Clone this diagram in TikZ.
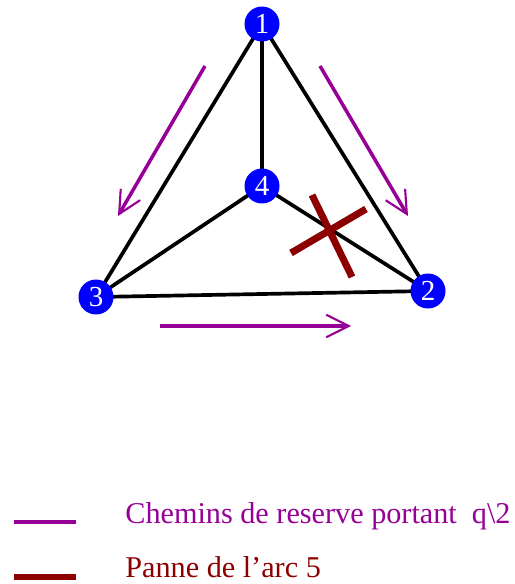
\documentclass[tikz,border=0pt]{standalone}
\usepackage{fontspec}
\setmainfont{Liberation Serif}
\usetikzlibrary{arrows.meta}
\definecolor{reserve}{RGB}{150,0,150}
\definecolor{panne}{RGB}{140,0,0}
\definecolor{noeud}{RGB}{0,0,255}

\begin{document}
\begin{tikzpicture}[x=0.02cm, y=-0.02cm,
    vertex/.style={circle, fill=noeud, minimum size=0.7cm, inner sep=0pt, text=white, font=\fontsize{16.5}{16}\selectfont},
    edge/.style={line width=2.1pt, black},
    detour/.style={reserve, line width=2pt, -{Straight Barb[length=0.45cm, width=0.45cm, line width=1.2pt]}},
    cut/.style={panne, line width=4pt},
    legend/.style={anchor=base west, font=\fontsize{17.2}{20}\selectfont, inner sep=0pt}
]
    \useasboundingbox (0,0) rectangle (514,584);

    % Nodes
    \coordinate (p1) at (262,24);
    \coordinate (p2) at (428,291);
    \coordinate (p3) at (96,297);
    \coordinate (p4) at (262,186);

    % Arcs
    \draw[edge] (p1) -- (p2);
    \draw[edge] (p1) -- (p3);
    \draw[edge] (p1) -- (p4);
    \draw[edge] (p4) -- (p3);
    \draw[edge] (p4) -- (p2);
    \draw[edge] (p3) -- (p2);

    \node[vertex] (n1) at (p1) {1};
    \node[vertex] (n2) at (p2) {2};
    \node[vertex] (n3) at (p3) {3};
    \node[vertex] (n4) at (p4) {4};

    % Failure of arc 5
    \coordinate (c1a) at (312,195);
    \coordinate (c1b) at (352,277);
    \coordinate (c2a) at (291,253);
    \coordinate (c2b) at (366,209);
    \draw[cut] (c1a) -- (c1b);
    \draw[cut] (c2a) -- (c2b);

    % Backup paths
    \coordinate (a1s) at (205,66);
    \coordinate (a1e) at (118,216);
    \coordinate (a2s) at (320,66);
    \coordinate (a2e) at (408,216);
    \coordinate (a3s) at (160,326);
    \coordinate (a3e) at (351,326);
    \draw[detour] (a1s) -- (a1e);
    \draw[detour] (a2s) -- (a2e);
    \draw[detour] (a3s) -- (a3e);

    % Legend
    \coordinate (l1a) at (14,522);
    \coordinate (l1b) at (76,522);
    \coordinate (l2a) at (14,577);
    \coordinate (l2b) at (76,577);
    \draw[reserve, line width=2.2pt] (l1a) -- (l1b);
    \draw[panne, line width=3pt] (l2a) -- (l2b);
    \node[legend, text=reserve] (leg1) at (125,523) {Chemins de reserve portant\ \ q\textbackslash 2};
    \node[legend, text=panne] (leg2) at (125,577) {Panne de l'arc 5};
\end{tikzpicture}
\end{document}
